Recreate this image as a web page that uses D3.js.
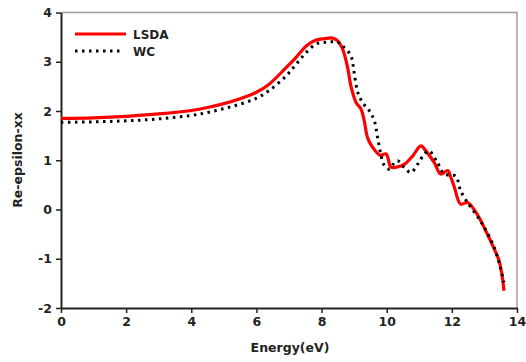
<!DOCTYPE html>
<html><head><meta charset="utf-8">
<script src="https://cdn.jsdelivr.net/npm/d3@7"></script>
<style>
body{margin:0;background:#fff;}
svg{display:block;font-family:"DejaVu Sans",Verdana,sans-serif;}
</style></head>
<body><svg id="c" width="526" height="362"></svg>
<script>
const xTicks = [0, 2, 4, 6, 8, 10, 12, 14];
const yTicks = [-2, -1, 0, 1, 2, 3, 4];
const seriesNames = ["LSDA", "WC"];

const lsdaE = [0, 1, 2, 3, 4, 4.5, 5, 5.5, 6.0, 6.4, 6.91, 7.22, 7.53, 7.83, 8.1, 8.34, 8.5, 8.65, 8.8, 8.9, 9.06, 9.21, 9.31, 9.41, 9.57, 9.8, 9.98, 10.13, 10.3, 10.55, 10.8, 11.05, 11.2, 11.46, 11.66, 11.87, 11.97, 12.07, 12.27, 12.48, 12.75, 13.04, 13.3, 13.45, 13.55, 13.6];
const lsdaV = [1.85, 1.86, 1.89, 1.94, 2.01, 2.07, 2.15, 2.25, 2.38, 2.55, 2.88, 3.09, 3.32, 3.44, 3.47, 3.48, 3.42, 3.25, 2.88, 2.51, 2.17, 2.04, 1.80, 1.46, 1.26, 1.10, 1.13, 0.86, 0.86, 0.92, 1.09, 1.29, 1.19, 0.95, 0.72, 0.79, 0.65, 0.47, 0.11, 0.14, -0.07, -0.43, -0.80, -1.04, -1.38, -1.65];

const wcE = [0, 1, 2, 3, 4, 4.5, 5, 5.5, 6.0, 6.4, 6.91, 7.22, 7.53, 7.83, 8.05, 8.24, 8.45, 8.65, 8.9, 9.0, 9.11, 9.26, 9.47, 9.62, 9.72, 9.82, 9.93, 10.08, 10.2, 10.33, 10.54, 10.74, 10.95, 11.15, 11.3, 11.56, 11.76, 11.95, 12.12, 12.27, 12.48, 12.58, 12.94, 13.3, 13.5, 13.6];
const wcV = [1.77, 1.78, 1.80, 1.84, 1.91, 1.97, 2.05, 2.14, 2.26, 2.42, 2.71, 2.95, 3.19, 3.36, 3.39, 3.40, 3.41, 3.32, 3.12, 2.78, 2.38, 2.17, 2.00, 1.80, 1.46, 1.12, 0.89, 0.82, 0.92, 0.99, 0.85, 0.75, 0.92, 1.12, 1.19, 0.95, 0.72, 0.70, 0.68, 0.38, 0.14, 0.05, -0.30, -0.77, -1.21, -1.48];

const svg = d3.select("#c");
const L = 61, R = 517, T = 12.5, B = 308;
const x = d3.scaleLinear().domain([0, 14]).range([L, R]);
const y = d3.scaleLinear().domain([-2, 4]).range([B, T]);

svg.append("path").attr("d", `M${L},${T}H${R}V${B}`).attr("fill","none").attr("stroke","#a0a0a0").attr("stroke-width",1.5);

const fmt = d => String(d);
const xa = svg.append("g").attr("transform", `translate(0,${B})`)
  .call(d3.axisBottom(x).tickValues(xTicks).tickFormat(fmt).tickSize(5).tickSizeOuter(0).tickPadding(4));
const ya = svg.append("g").attr("transform", `translate(${L},0)`)
  .call(d3.axisLeft(y).tickValues(yTicks).tickFormat(fmt).tickSize(5).tickSizeOuter(0).tickPadding(4));
[xa, ya].forEach(a => {
  a.select(".domain").attr("stroke","#222").attr("stroke-width",2);
  a.selectAll(".tick line").attr("stroke","#222").attr("stroke-width",1.5);
  a.selectAll("text").attr("font-size",12.5).attr("font-weight","bold").attr("fill","#222")
   .attr("font-family","DejaVu Sans, Verdana, sans-serif");
});

const line = d3.line().x(d => x(d[0])).y(d => y(d[1])).curve(d3.curveCatmullRom.alpha(0.5));
const wcData = wcE.map((e, i) => [e, wcV[i]]);
const lsdaData = lsdaE.map((e, i) => [e, lsdaV[i]]);

svg.append("path").datum(lsdaData).attr("d", line).attr("fill","none")
  .attr("stroke","#ff0000").attr("stroke-width",3.2).attr("stroke-linejoin","round");
svg.append("path").datum(wcData).attr("d", line).attr("fill","none")
  .attr("stroke","#000").attr("stroke-width",3).attr("stroke-dasharray","2.5,4.5");

const lg = svg.append("g");
lg.append("line").attr("x1",75).attr("x2",126).attr("y1",34).attr("y2",34).attr("stroke","#ff0000").attr("stroke-width",3.2);
lg.append("line").attr("x1",75).attr("x2",122).attr("y1",51).attr("y2",51).attr("stroke","#000").attr("stroke-width",3).attr("stroke-dasharray","2.5,4.5");
lg.append("text").attr("x",133).attr("y",38.5).text(seriesNames[0]).attr("font-size",12).attr("font-weight","bold").attr("fill","#222");
lg.append("text").attr("x",133).attr("y",55.5).text(seriesNames[1]).attr("font-size",12).attr("font-weight","bold").attr("fill","#222");

svg.append("text").attr("x", 290).attr("y", 352).attr("text-anchor","middle")
  .attr("font-size",12.5).attr("font-weight","bold").attr("fill","#222").text("Energy(eV)");
svg.append("text").attr("transform","translate(22,160) rotate(-90)").attr("text-anchor","middle")
  .attr("font-size",12.5).attr("font-weight","bold").attr("fill","#222").text("Re-epsilon-xx");
</script></body></html>
